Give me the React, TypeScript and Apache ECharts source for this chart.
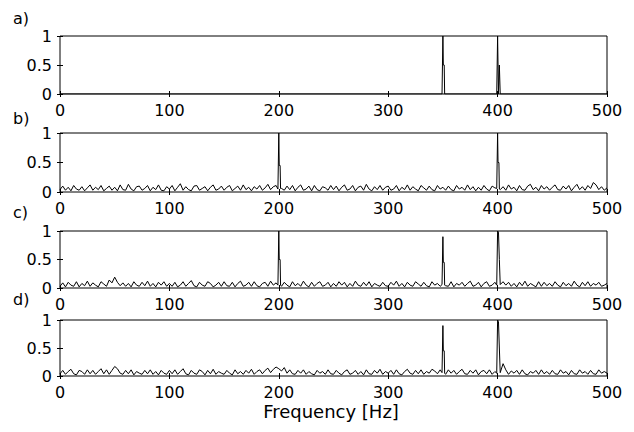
import React, { useEffect, useRef } from "react";
import * as echarts from "echarts";

const PANEL_LABELS = ["a)", "b)", "c)", "d)"];
const X_TITLE = "Frequency [Hz]";
const FREQ_STEP = 2.5;

const A_NOISE: number[] = [];
const B_NOISE = [
  0.04,0.10,0.03,0.08,0.02,0.11,0.05,0.03,0.09,0.02,0.07,0.12,0.03,0.08,0.04,0.11,0.02,0.06,0.10,0.03,
  0.08,0.02,0.12,0.04,0.03,0.13,0.05,0.02,0.09,0.10,0.03,0.06,0.11,0.02,0.08,0.04,0.12,0.03,0.02,0.09,
  0.05,0.11,0.02,0.08,0.14,0.03,0.09,0.04,0.02,0.10,0.11,0.03,0.06,0.09,0.02,0.08,0.12,0.03,0.05,0.10,
  0.03,0.08,0.11,0.02,0.06,0.10,0.03,0.12,0.04,0.08,0.02,0.09,0.05,0.11,0.03,0.07,0.13,0.04,0.09,0.11,
  0.12,0.06,0.03,0.10,0.04,0.11,0.02,0.08,0.12,0.03,0.05,0.10,0.02,0.11,0.04,0.02,0.09,0.07,0.03,0.11,
  0.04,0.10,0.02,0.08,0.12,0.03,0.05,0.11,0.02,0.08,0.10,0.03,0.13,0.05,0.02,0.09,0.04,0.11,0.03,0.08,
  0.10,0.03,0.05,0.11,0.02,0.08,0.04,0.12,0.03,0.09,0.05,0.02,0.11,0.07,0.03,0.10,0.04,0.02,0.11,0.05,
  0.08,0.03,0.10,0.04,0.02,0.11,0.05,0.08,0.03,0.12,0.04,0.09,0.02,0.08,0.03,0.11,0.05,0.02,0.10,0.07,
  0.11,0.04,0.09,0.03,0.12,0.05,0.08,0.02,0.11,0.04,0.03,0.10,0.13,0.04,0.08,0.02,0.11,0.05,0.09,0.03,
  0.08,0.12,0.04,0.03,0.10,0.05,0.11,0.02,0.08,0.13,0.04,0.09,0.03,0.11,0.06,0.16,0.12,0.04,0.09,0.03,
  0.07,
];
const C_NOISE = [
  0.03,0.09,0.02,0.10,0.05,0.03,0.11,0.02,0.08,0.04,0.12,0.03,0.09,0.05,0.02,0.11,0.07,0.03,0.14,0.09,
  0.19,0.10,0.04,0.09,0.03,0.08,0.02,0.11,0.05,0.03,0.10,0.04,0.12,0.03,0.08,0.02,0.10,0.05,0.11,0.03,
  0.08,0.03,0.10,0.02,0.05,0.11,0.03,0.08,0.13,0.04,0.02,0.10,0.05,0.03,0.11,0.08,0.02,0.05,0.10,0.03,
  0.11,0.04,0.03,0.10,0.02,0.08,0.12,0.03,0.05,0.10,0.03,0.11,0.04,0.02,0.08,0.10,0.03,0.12,0.05,0.09,
  0.08,0.03,0.10,0.05,0.02,0.11,0.04,0.08,0.03,0.12,0.05,0.02,0.10,0.03,0.08,0.11,0.03,0.05,0.10,0.02,
  0.08,0.03,0.11,0.05,0.10,0.02,0.08,0.03,0.12,0.05,0.03,0.10,0.04,0.11,0.02,0.08,0.05,0.03,0.10,0.04,
  0.03,0.10,0.05,0.12,0.03,0.08,0.02,0.10,0.05,0.03,0.11,0.07,0.03,0.10,0.04,0.02,0.11,0.05,0.08,0.03,
  0.10,0.04,0.03,0.11,0.02,0.08,0.05,0.10,0.03,0.08,0.12,0.03,0.05,0.10,0.02,0.08,0.11,0.03,0.05,0.10,
  0.04,0.03,0.11,0.05,0.10,0.03,0.08,0.02,0.10,0.04,0.12,0.03,0.08,0.05,0.02,0.11,0.03,0.10,0.04,0.08,
  0.03,0.11,0.05,0.02,0.10,0.04,0.08,0.03,0.12,0.05,0.02,0.10,0.04,0.11,0.03,0.08,0.05,0.10,0.03,0.05,
  0.08,
];
const D_NOISE = [
  0.04,0.10,0.03,0.08,0.12,0.04,0.02,0.10,0.08,0.03,0.11,0.04,0.10,0.03,0.08,0.13,0.04,0.11,0.03,0.10,
  0.17,0.13,0.05,0.03,0.10,0.04,0.11,0.02,0.08,0.05,0.03,0.10,0.04,0.11,0.03,0.08,0.02,0.10,0.05,0.03,
  0.10,0.04,0.11,0.03,0.08,0.13,0.04,0.02,0.10,0.05,0.03,0.11,0.08,0.02,0.10,0.04,0.12,0.03,0.08,0.05,
  0.03,0.10,0.05,0.02,0.11,0.04,0.08,0.03,0.10,0.05,0.12,0.03,0.08,0.11,0.04,0.10,0.14,0.06,0.12,0.16,
  0.13,0.09,0.15,0.05,0.11,0.04,0.03,0.10,0.05,0.11,0.03,0.08,0.04,0.02,0.10,0.05,0.08,0.03,0.11,0.04,
  0.03,0.10,0.05,0.02,0.08,0.11,0.03,0.05,0.10,0.03,0.08,0.02,0.11,0.04,0.03,0.10,0.05,0.12,0.03,0.08,
  0.05,0.10,0.03,0.11,0.04,0.02,0.08,0.12,0.05,0.03,0.10,0.04,0.11,0.03,0.08,0.05,0.12,0.09,0.04,0.11,
  0.08,0.03,0.11,0.05,0.10,0.03,0.08,0.12,0.04,0.03,0.10,0.05,0.11,0.02,0.08,0.10,0.04,0.11,0.03,0.08,
  0.10,0.05,0.22,0.11,0.03,0.09,0.05,0.10,0.03,0.11,0.04,0.02,0.08,0.05,0.10,0.03,0.11,0.04,0.08,0.03,
  0.10,0.04,0.03,0.11,0.05,0.08,0.02,0.10,0.04,0.03,0.11,0.05,0.08,0.03,0.10,0.04,0.03,0.11,0.05,0.08,
  0.05,
];

const A_PEAKS = [[0, 0], [349.2, 0], [350, 1], [350.4, 0.5], [351.2, 0.5], [351.6, 0], [399.2, 0], [400, 1], [400.8, 0], [401.6, 0.5], [402.4, 0], [500, 0]];
const B_PEAKS = [[199.2, 0.05], [200, 1], [200.4, 0.45], [201.2, 0.45], [201.6, 0.06], [399.2, 0.06], [400, 1], [400.4, 0.5], [401.2, 0.5], [401.6, 0.05]];
const C_PEAKS = [[199.2, 0.05], [200, 1], [200.4, 0.5], [201.2, 0.5], [201.6, 0.05], [349.2, 0.06], [350, 0.9], [350.4, 0.45], [351.2, 0.45], [351.6, 0.05], [399.2, 0.05], [400, 1], [400.8, 0.98], [401.6, 0.5], [402.4, 0.06]];
const D_PEAKS = [[349.2, 0.06], [350, 0.9], [350.4, 0.45], [351.2, 0.45], [351.6, 0.05], [399.2, 0.05], [400, 1], [400.8, 0.97], [401.6, 0.5], [402.4, 0.06]];

const X_TICKS = { min: 0, max: 500, interval: 100 };
const Y_TICKS = { min: 0, max: 1, interval: 0.5 };

function buildSeries(noise: number[], peaks: number[][]) {
  const pts = noise
    .map((v, i) => [i * FREQ_STEP, v])
    .filter(([f]) => !peaks.some(([p]) => Math.abs(p - f) < 0.6));
  return pts.concat(peaks).sort((a, b) => a[0] - b[0]);
}

const PANELS = [
  buildSeries(A_NOISE, A_PEAKS),
  buildSeries(B_NOISE, B_PEAKS),
  buildSeries(C_NOISE, C_PEAKS),
  buildSeries(D_NOISE, D_PEAKS),
];

const GRID_TOPS = [36, 133, 231, 320];
const GRID_HEIGHTS = [58, 59, 57, 56];
const FONT = "DejaVu Sans";

export default function App() {
  const ref = useRef<HTMLDivElement>(null);
  useEffect(() => {
    if (!ref.current) return;
    const chart = echarts.init(ref.current, undefined, { renderer: "svg" });
    const grids: any[] = [];
    const xAxes: any[] = [];
    const yAxes: any[] = [];
    const series: any[] = [];
    const labelStyle = { color: "#000", fontSize: 16, fontFamily: FONT };
    PANELS.forEach((data, i) => {
      grids.push({
        left: 60,
        right: 27,
        top: GRID_TOPS[i],
        height: GRID_HEIGHTS[i],
        show: true,
        borderColor: "#000",
        borderWidth: 1,
        backgroundColor: "#fff",
      });
      const xBase = {
        type: "value",
        gridIndex: i,
        ...X_TICKS,
        splitLine: { show: false },
        axisLine: { show: false },
        axisTick: { show: true, inside: true, length: 3, lineStyle: { color: "#000" } },
      };
      xAxes.push({ ...xBase, position: "bottom", axisLabel: { ...labelStyle, margin: 8, showMaxLabel: true, showMinLabel: true } });
      xAxes.push({ ...xBase, position: "top", axisLabel: { show: false } });
      const yBase = {
        type: "value",
        gridIndex: i,
        ...Y_TICKS,
        splitLine: { show: false },
        axisLine: { show: false },
        axisTick: { show: true, inside: true, length: 3, lineStyle: { color: "#000" } },
      };
      yAxes.push({ ...yBase, position: "left", axisLabel: { ...labelStyle, margin: 8 } });
      yAxes.push({ ...yBase, position: "right", axisLabel: { show: false } });
      series.push({
        type: "line",
        xAxisIndex: i * 2,
        yAxisIndex: i * 2,
        data,
        showSymbol: false,
        symbol: "none",
        lineStyle: { color: "#000", width: 1 },
        z: 3,
      });
    });
    const LABEL_Y = [18, 118, 212, 299];
    const graphics: any[] = PANEL_LABELS.map((t, i) => ({
      type: "text",
      x: 13,
      y: LABEL_Y[i],
      style: { text: t, fill: "#000", font: `16px '${FONT}'`, textVerticalAlign: "middle" },
    }));
    graphics.push({
      type: "text",
      x: 331,
      y: 411,
      style: { text: X_TITLE, fill: "#000", font: `18px '${FONT}'`, textAlign: "center", textVerticalAlign: "middle" },
    });
    chart.setOption({
      animation: false,
      backgroundColor: "#fff",
      grid: grids,
      xAxis: xAxes,
      yAxis: yAxes,
      series,
      graphic: graphics,
    });
    return () => chart.dispose();
  }, []);
  return (
    <div
      ref={ref}
      style={{ position: "fixed", left: 0, top: 0, width: 634, height: 432 }}
    />
  );
}
